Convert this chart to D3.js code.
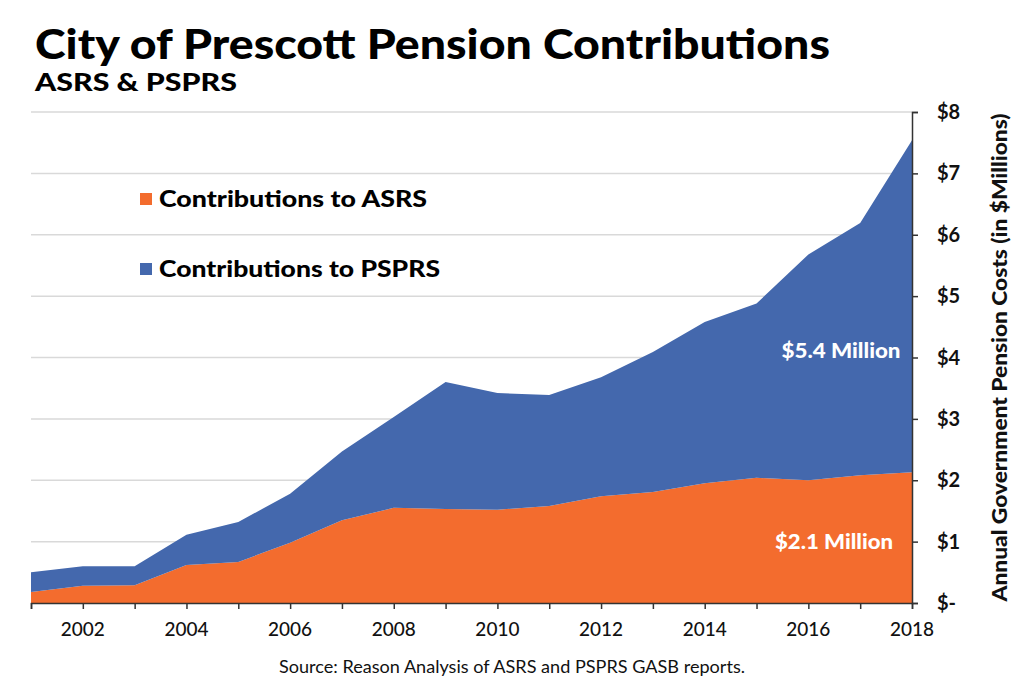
<!DOCTYPE html>
<html><head><meta charset="utf-8">
<script src="https://cdn.jsdelivr.net/npm/d3@7"></script>
<style>body{margin:0;background:#fff}svg{display:block}text{font-family:Lato,"Open Sans",sans-serif}</style>
</head><body><svg id="c" width="1024" height="695"></svg>
<script>
const years = [2001,2002,2003,2004,2005,2006,2007,2008,2009,2010,2011,2012,2013,2014,2015,2016,2017,2018];
const asrs  = [0.18,0.28,0.29,0.62,0.67,0.98,1.35,1.55,1.53,1.52,1.58,1.74,1.81,1.95,2.04,2.00,2.08,2.13];
const total = [0.50,0.60,0.60,1.11,1.32,1.78,2.47,3.03,3.60,3.42,3.39,3.68,4.09,4.58,4.88,5.68,6.19,7.54];
const psprs = total.map((t,i)=>+(t-asrs[i]).toFixed(2));
const yTicks = [0,1,2,3,4,5,6,7,8];
const xLabelYears = [2002,2004,2006,2008,2010,2012,2014,2016,2018];
const seriesNames = ["Contributions to ASRS","Contributions to PSPRS"];
const colors = ["#F36C2E","#4468AD"];

const svg = d3.select("#c");
const x = d3.scaleLinear().domain([2001,2018]).range([31,912]);
const y = d3.scaleLinear().domain([0,8]).range([603,112]);

// gridlines
svg.append("g").selectAll("line").data(yTicks.filter(d=>d>0)).join("line")
  .attr("x1",x(2001)).attr("x2",x(2018)).attr("y1",d=>y(d)).attr("y2",d=>y(d))
  .attr("stroke","#d9d9d9").attr("stroke-width",1.5);

const table = years.map((yr,i)=>({year:yr, asrs:asrs[i], psprs:psprs[i]}));
const stack = d3.stack().keys(["asrs","psprs"])(table);
const area = d3.area().x(d=>x(d.data.year)).y0(d=>y(d[0])).y1(d=>y(d[1]));
svg.append("g").selectAll("path").data(stack).join("path")
  .attr("d",area).attr("fill",(d,i)=>colors[i]);

// axes
const xa = svg.append("g").attr("transform",`translate(0,${y(0)})`)
  .call(d3.axisBottom(x).tickValues(years).tickSize(6).tickFormat(""));
xa.select(".domain").attr("stroke","#333").attr("stroke-width",1.5);
xa.selectAll(".tick line").attr("stroke","#333").attr("stroke-width",1.5);
svg.append("g").selectAll("text").data(xLabelYears).join("text")
  .attr("x",d=>x(d)).attr("y",636).attr("text-anchor","middle")
  .attr("font-size",19).attr("font-weight",500).attr("fill","#111").text(d=>d);

const ya = svg.append("g").attr("transform",`translate(${x(2018)},0)`)
  .call(d3.axisRight(y).tickValues(yTicks).tickSize(6).tickFormat(""));
ya.select(".domain").attr("stroke","#333").attr("stroke-width",1.5);
ya.selectAll(".tick line").attr("stroke","#333").attr("stroke-width",1.5);
svg.append("g").selectAll("text").data(yTicks).join("text")
  .attr("x",937).attr("y",d=>y(d)+7).attr("font-size",20).attr("font-weight",700).attr("fill","#111")
  .text(d=>d===0?"$-":"$"+d);

svg.append("text").attr("transform",`translate(1007,${(y(0)+y(8))/2}) rotate(-90)`)
  .attr("text-anchor","middle").attr("font-size",20).attr("font-weight",900).attr("fill","#111")
  .attr("textLength",488).attr("lengthAdjust","spacingAndGlyphs")
  .text("Annual Government Pension Costs (in $Millions)");

// title
svg.append("text").attr("x",35).attr("y",59).attr("font-size",41).attr("font-weight",900)
  .attr("fill","#000").attr("textLength",795).attr("lengthAdjust","spacingAndGlyphs")
  .text("City of Prescott Pension Contributions");
svg.append("text").attr("x",35).attr("y",91).attr("font-size",25).attr("font-weight",900)
  .attr("fill","#000").attr("textLength",202).attr("lengthAdjust","spacingAndGlyphs")
  .text("ASRS & PSPRS");

// legend
const lg = svg.append("g");
const legendLen = [268, 281];
[0,1].forEach(i=>{
  const cy = 199 + i*70;
  lg.append("rect").attr("x",140).attr("y",cy-6).attr("width",12).attr("height",12).attr("fill",colors[i]);
  lg.append("text").attr("x",159).attr("y",cy+8).attr("font-size",23).attr("font-weight",900)
    .attr("fill","#000").attr("textLength",legendLen[i]).attr("lengthAdjust","spacingAndGlyphs")
    .text(seriesNames[i]);
});

// annotations
const last = years.length-1;
svg.append("text").attr("x",841).attr("y",358).attr("text-anchor","middle").attr("font-size",20)
  .attr("font-weight",900).attr("fill","#fff").attr("textLength",119).attr("lengthAdjust","spacingAndGlyphs")
  .text("$" + psprs[last].toFixed(1) + " Million");
svg.append("text").attr("x",834).attr("y",549).attr("text-anchor","middle").attr("font-size",20)
  .attr("font-weight",900).attr("fill","#fff").attr("textLength",118).attr("lengthAdjust","spacingAndGlyphs")
  .text("$" + asrs[last].toFixed(1) + " Million");

svg.append("text").attr("x",512).attr("y",673).attr("text-anchor","middle").attr("font-size",17)
  .attr("fill","#111").attr("textLength",466).attr("lengthAdjust","spacingAndGlyphs")
  .text("Source: Reason Analysis of ASRS and PSPRS GASB reports.");
</script></body></html>
